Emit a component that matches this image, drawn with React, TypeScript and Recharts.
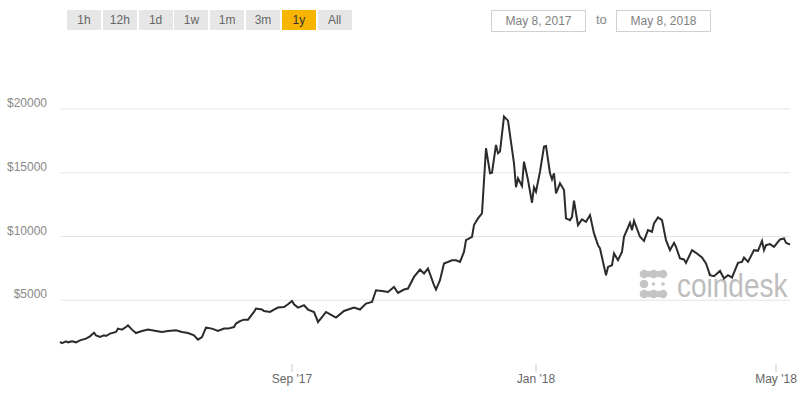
import React from "react";
import { LineChart, Line, XAxis, YAxis, CartesianGrid } from "recharts";

const startDate = "2017-05-08";

const dates = [
  "2017-05-08","2017-05-09","2017-05-11","2017-05-12","2017-05-14","2017-05-16","2017-05-18","2017-05-21","2017-05-23","2017-05-25",
  "2017-05-26","2017-05-28","2017-05-30","2017-05-31","2017-06-02","2017-06-05","2017-06-06","2017-06-08","2017-06-10","2017-06-11",
  "2017-06-13","2017-06-15","2017-06-18","2017-06-21","2017-06-25","2017-06-28","2017-07-01","2017-07-05","2017-07-08","2017-07-11",
  "2017-07-14","2017-07-16","2017-07-18","2017-07-20","2017-07-23","2017-07-26","2017-07-29","2017-07-31","2017-08-03","2017-08-04",
  "2017-08-06","2017-08-08","2017-08-10","2017-08-13","2017-08-14","2017-08-17","2017-08-18","2017-08-21","2017-08-23","2017-08-25",
  "2017-08-28","2017-08-30","2017-09-01","2017-09-02","2017-09-04","2017-09-07","2017-09-09","2017-09-12","2017-09-14","2017-09-16",
  "2017-09-18","2017-09-21","2017-09-23","2017-09-27","2017-10-02","2017-10-05","2017-10-08","2017-10-11","2017-10-13","2017-10-16",
  "2017-10-19","2017-10-22","2017-10-24","2017-10-27","2017-10-29","2017-11-01","2017-11-04","2017-11-06","2017-11-08","2017-11-11",
  "2017-11-12","2017-11-14","2017-11-16","2017-11-20","2017-11-22","2017-11-24","2017-11-26","2017-11-27","2017-11-30","2017-12-01",
  "2017-12-03","2017-12-05","2017-12-07","2017-12-09","2017-12-10","2017-12-12","2017-12-13","2017-12-14","2017-12-16","2017-12-18",
  "2017-12-19","2017-12-21","2017-12-22","2017-12-23","2017-12-25","2017-12-26","2017-12-28","2017-12-30","2017-12-31","2018-01-01",
  "2018-01-03","2018-01-05","2018-01-06","2018-01-08","2018-01-09","2018-01-10","2018-01-11","2018-01-13","2018-01-15","2018-01-16",
  "2018-01-18","2018-01-19","2018-01-20","2018-01-22","2018-01-24","2018-01-26","2018-01-28","2018-01-30","2018-02-01","2018-02-02",
  "2018-02-05","2018-02-06","2018-02-08","2018-02-09","2018-02-11","2018-02-13","2018-02-14","2018-02-17","2018-02-18","2018-02-19",
  "2018-02-22","2018-02-24","2018-02-26","2018-02-28","2018-03-01","2018-03-03","2018-03-05","2018-03-07","2018-03-09","2018-03-11",
  "2018-03-12","2018-03-14","2018-03-16","2018-03-17","2018-03-20","2018-03-22","2018-03-25","2018-03-27","2018-03-29","2018-03-31",
  "2018-04-03","2018-04-05","2018-04-07","2018-04-09","2018-04-12","2018-04-14","2018-04-15","2018-04-17","2018-04-20","2018-04-22",
  "2018-04-24","2018-04-25","2018-04-26","2018-04-28","2018-04-30","2018-05-03","2018-05-05","2018-05-06","2018-05-08"
];

const prices = [
  1730,1640,1780,1700,1780,1700,1855,1990,2170,2460,
  2250,2115,2250,2195,2380,2510,2775,2695,2900,3035,
  2695,2430,2585,2695,2585,2510,2585,2640,2510,2430,
  2250,1910,2115,2850,2775,2585,2775,2775,2900,3170,
  3370,3480,3480,4080,4350,4270,4160,4080,4270,4425,
  4470,4685,4945,4685,4425,4605,4270,4080,3295,3685,
  4080,3820,3640,4160,4425,4270,4740,4865,5785,5730,
  5650,6045,5570,5840,5920,6830,7410,7100,7490,6180,
  5840,6570,7880,8140,8140,8010,8795,9715,9975,10895,
  11420,11815,16920,14960,15000,17180,16530,16660,19410,19090,
  17970,15745,13860,14565,13960,15870,14430,12650,13860,13510,
  15085,17050,17100,14960,14485,14960,13385,14170,13645,11420,
  11285,11545,12805,10895,11340,11155,11680,10240,9320,9060,
  6965,7615,7750,8670,8145,8795,9975,11075,10500,11230,
  9975,9660,10500,10370,11030,11500,11290,9715,8930,9505,
  9190,8275,8200,7930,8930,8720,8355,7885,6965,6885,
  7300,6705,6965,6785,7930,8010,8355,8010,8930,8875,
  9660,8930,9320,9400,9190,9770,9850,9505,9375
];

const yTicks = [5000, 10000, 15000, 20000];
const tickDates = ["2017-09-01", "2018-01-01", "2018-05-01"];
const tickLabels = ["Sep '17", "Jan '18", "May '18"];
const rangeButtons = ["1h", "12h", "1d", "1w", "1m", "3m", "1y", "All"];
const activeRange = "1y";
const fromLabel = "May 8, 2017";
const toLabel = "May 8, 2018";
const watermark = "coindesk";

const DAY = 86400000;
const dayIndex = (d: string) => Math.round((Date.parse(d) - Date.parse(startDate)) / DAY);
const endDay = dayIndex("2018-05-08");

const data = dates.map((d, i) => ({ t: dayIndex(d), price: prices[i] }));
const xTicks = tickDates.map(dayIndex);
const labelFor = (v: number) => {
  const i = xTicks.indexOf(v);
  return i >= 0 ? tickLabels[i] : "";
};

const YTick = (props: any) => {
  const { x, y, payload } = props;
  return (
    <text x={x} y={y} dy={-2} textAnchor="end" fill="#888" fontSize={12}>
      {"$" + payload.value}
    </text>
  );
};

const Watermark = () => {
  const big = [
    [0, 0], [1, 0], [2, 0],
    [0, 1],
    [0, 2], [1, 2], [2, 2],
  ];
  const small = [[1, 1], [2, 1]];
  const c = "#c4c4c4";
  return (
    <svg width={160} height={40} style={{ position: "absolute", left: 635, top: 264 }}>
      <g transform="translate(4,5)">
        <line x1={5} y1={5} x2={24} y2={5} stroke={c} strokeWidth={6} strokeLinecap="round" />
        <line x1={5} y1={25} x2={24} y2={25} stroke={c} strokeWidth={6} strokeLinecap="round" />
        {big.map(([cx, cy], i) => (
          <circle key={"b" + i} cx={5 + cx * 9.5} cy={5 + cy * 10} r={4.3} fill={c} />
        ))}
        {small.map(([cx, cy], i) => (
          <circle key={"s" + i} cx={5 + cx * 9.5} cy={5 + cy * 10} r={1.8} fill={c} />
        ))}
      </g>
      <text
        x={0}
        y={0}
        transform="translate(42,33) scale(1,1.18)"
        fontSize={28}
        fill="#bdbdbd"
        style={{ fontFamily: "'Liberation Sans', Arial, sans-serif" }}
      >
        {watermark}
      </text>
    </svg>
  );
};

export default function App() {
  return (
    <div
      style={{
        position: "absolute",
        left: 0,
        top: 0,
        width: 800,
        height: 400,
        background: "#fff",
        fontFamily: "'Liberation Sans', Arial, sans-serif",
        overflow: "hidden",
      }}
    >
      {rangeButtons.map((b, i) => (
        <div
          key={b}
          style={{
            position: "absolute",
            left: 67 + i * 35.8,
            top: 10,
            width: 34,
            height: 20,
            lineHeight: "20px",
            textAlign: "center",
            fontSize: 12,
            background: b === activeRange ? "#f7b500" : "#e6e6e6",
            color: b === activeRange ? "#333" : "#666",
          }}
        >
          {b}
        </div>
      ))}
      <div
        style={{
          position: "absolute",
          left: 491,
          top: 10,
          width: 93,
          height: 20,
          lineHeight: "20px",
          border: "1px solid #d0d0d0",
          textAlign: "center",
          fontSize: 12,
          color: "#808080",
        }}
      >
        {fromLabel}
      </div>
      <div style={{ position: "absolute", left: 596, top: 10, lineHeight: "20px", fontSize: 13, color: "#888" }}>to</div>
      <div
        style={{
          position: "absolute",
          left: 616,
          top: 10,
          width: 93,
          height: 20,
          lineHeight: "20px",
          border: "1px solid #d0d0d0",
          textAlign: "center",
          fontSize: 12,
          color: "#808080",
        }}
      >
        {toLabel}
      </div>

      <Watermark />

      <div style={{ position: "absolute", left: 0, top: 0 }}>
        <LineChart width={800} height={400} data={data} margin={{ top: 58, right: 10, bottom: 6, left: 0 }}>
          <CartesianGrid
            horizontal
            vertical={false}
            stroke="#e4e4e4"
            horizontalValues={yTicks}
            syncWithTicks
          />
          <XAxis
            type="number"
            dataKey="t"
            domain={[0, endDay]}
            ticks={xTicks}
            interval={0}
            tickFormatter={labelFor}
            axisLine={false}
            tickLine={{ stroke: "#ccc" }}
            tickSize={8}
            tickMargin={2}
            height={30}
            tick={{ fill: "#666", fontSize: 12 }}
          />
          <YAxis
            type="number"
            domain={[0, 24000]}
            ticks={yTicks}
            width={60}
            axisLine={false}
            tickLine={false}
            tickMargin={7}
            tick={<YTick />}
          />
          <Line
            type="linear"
            dataKey="price"
            stroke="#2b2b2b"
            strokeWidth={2}
            dot={false}
            isAnimationActive={false}
          />
        </LineChart>
      </div>
    </div>
  );
}
